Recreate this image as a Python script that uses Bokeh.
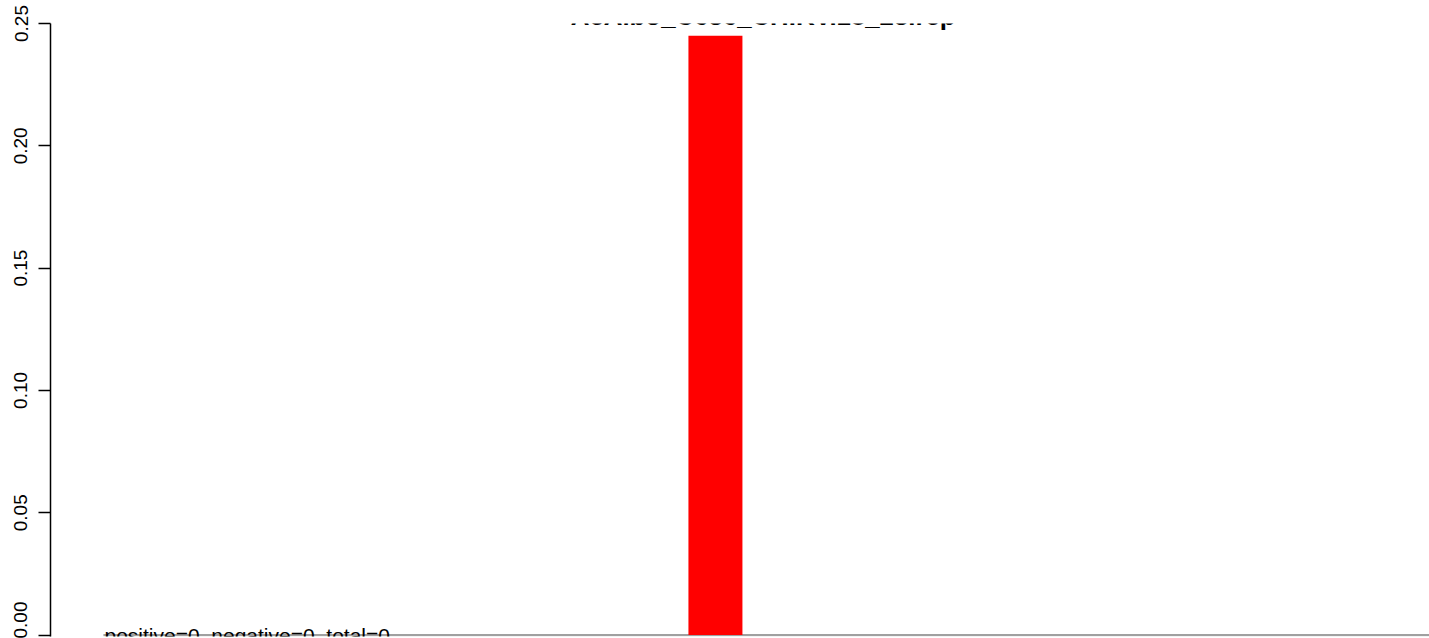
from bokeh.plotting import figure
from bokeh.models import Range1d, FixedTicker, NumeralTickFormatter, Label
from bokeh.embed import file_html
from bokeh.resources import INLINE

# ---- data ----
title_text = "AeAlbo_C636_CHIKV.18_23.rep"
bar_positions = [12.315]
bar_values = [0.245]
bar_colors = ["#FF0000"]
y_ticks = [0.00, 0.05, 0.10, 0.15, 0.20, 0.25]
summary_text = "positive=0, negative=0, total=0"
baseline_x = [0.98, 26.0]
baseline_y = [0.0, 0.0]

W, H = 1429, 638
p = figure(width=W, height=H, output_backend="svg", toolbar_location=None,
           x_range=Range1d(0, 25.54), y_range=Range1d(-0.0006, 0.25),
           x_axis_location=None, min_border_left=50, min_border_right=0,
           min_border_top=23, min_border_bottom=2)
p.outline_line_color = None
p.grid.visible = False
p.background_fill_color = "white"
p.border_fill_color = "white"

ax = p.yaxis[0]
ax.ticker = FixedTicker(ticks=y_ticks)
ax.formatter = NumeralTickFormatter(format="0.00")
ax.major_label_orientation = "vertical"
ax.major_tick_out = 12
ax.major_tick_in = 0
ax.minor_tick_out = 0
ax.minor_tick_in = 0
ax.major_label_standoff = 11
ax.axis_line_color = "black"
ax.major_tick_line_color = "black"
ax.axis_line_width = 1.5
ax.major_tick_line_width = 1.5
ax.major_label_text_font = "Liberation Sans"
ax.major_label_text_font_size = "19px"
ax.major_label_text_color = "black"

p.line(baseline_x, baseline_y, line_color="#a0a0a0", line_width=2.2)
p.vbar(x=bar_positions, top=bar_values, bottom=0, width=1.0,
       fill_color=bar_colors, line_color=None)

p.add_layout(Label(x=1.0, y=0.0, text=summary_text, text_font="Liberation Sans",
                   text_font_size="21px", text_color="black",
                   text_baseline="alphabetic", text_align="left"))

p.add_layout(Label(x=13.2, y=0.25327, text=title_text, text_font="Liberation Sans",
                   text_font_style="bold", text_font_size="25.8px",
                   text_align="center", text_baseline="alphabetic",
                   text_color="black"))

open("out.html", "w").write(file_html(p, INLINE))
